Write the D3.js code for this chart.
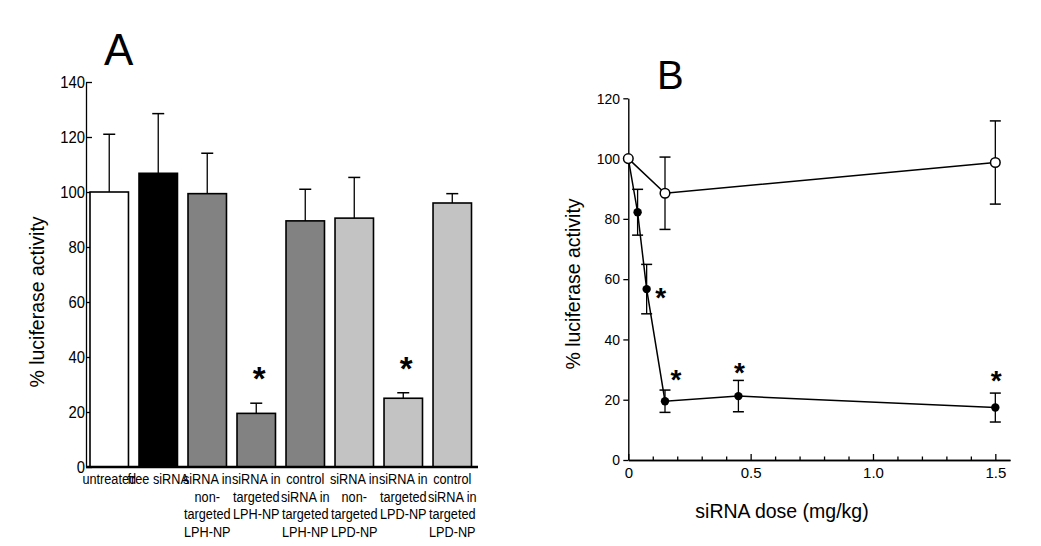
<!DOCTYPE html>
<html><head><meta charset="utf-8">
<script src="https://cdn.jsdelivr.net/npm/d3@7"></script>
<style>
html,body{margin:0;padding:0;background:#fff;}
svg{display:block;font-family:"Liberation Sans",Arial,sans-serif;}
</style></head>
<body>
<svg id="chart" width="1041" height="546"></svg>
<script>
// ---------- Panel A data ----------
const categories = ["untreated","free siRNA","siRNA in non-targeted LPH-NP","siRNA in targeted LPH-NP",
  "control siRNA in targeted LPH-NP","siRNA in non-targeted LPD-NP","siRNA in targeted LPD-NP","control siRNA in targeted LPD-NP"];
const categoryLines = [["untreated"],["free siRNA"],["siRNA in","non-","targeted","LPH-NP"],["siRNA in","targeted","LPH-NP"],
  ["control","siRNA in","targeted","LPH-NP"],["siRNA in","non-","targeted","LPD-NP"],["siRNA in","targeted","LPD-NP"],
  ["control","siRNA in","targeted","LPD-NP"]];
const activityA = [100, 106.8, 99.4, 19.5, 89.5, 90.5, 25, 96];
const errorA = [21, 21.7, 14.7, 3.7, 11.5, 14.8, 2, 3.4];
const significantA = [false,false,false,true,false,false,true,false];
const barColors = ["#ffffff","#000000","#828282","#828282","#828282","#c3c3c3","#c3c3c3","#c3c3c3"];
const ticksA = [0,20,40,60,80,100,120,140];

// ---------- Panel B data ----------
const doseSiRNA = [0, 0.038, 0.075, 0.15, 0.45, 1.5];
const activitySiRNA = [100, 82.2, 56.7, 19.5, 21.2, 17.4];
const errorSiRNA = [0, 7.6, 8.2, 3.7, 5.2, 4.8];
const significantB = [false,false,true,true,true,true];
const doseControl = [0, 0.15, 1.5];
const activityControl = [100, 88.5, 98.7];
const errorControl = [0, 12, 13.8];
const ticksBy = [0,20,40,60,80,100,120];
const ticksBx = [0,0.5,1.0,1.5];
const tickLabelsBx = ["0","0.5","1.0","1.5"];
const minorTicksBx = [0.1,0.2,0.3,0.4,0.6,0.7,0.8,0.9,1.1,1.2,1.3,1.4];

const svg = d3.select("#chart");

// ================= PANEL A =================
const yA = d3.scaleLinear().domain([0,140]).range([467,82]);
const xA = d3.scaleBand().domain(categories).range([90,471.5]).paddingInner(0.215).paddingOuter(0);
const gA = svg.append("g");

const axA = gA.append("g").attr("transform","translate(86,0)")
  .call(d3.axisLeft(yA).tickValues(ticksA).tickSizeInner(-6).tickSizeOuter(0).tickPadding(1));
axA.select(".domain").attr("stroke","#000").attr("stroke-width",1.3);
axA.selectAll(".tick line").attr("stroke","#000").attr("stroke-width",1.3);
axA.selectAll(".tick text").attr("font-size",16.5).attr("fill","#000").attr("font-family","Liberation Sans, Arial, sans-serif")
  .attr("transform","scale(0.9,1)").attr("dy","0.36em");

gA.selectAll("rect.bar").data(categories).join("rect").attr("class","bar")
  .attr("x",d=>xA(d)).attr("width",xA.bandwidth())
  .attr("y",(d,i)=>yA(activityA[i])).attr("height",(d,i)=>yA(0)-yA(activityA[i]))
  .attr("fill",(d,i)=>barColors[i]).attr("stroke","#000").attr("stroke-width",1.6);

// error bars (upper only)
categories.forEach((c,i)=>{
  const cx = xA(c)+xA.bandwidth()/2;
  const y0 = yA(activityA[i]), y1 = yA(activityA[i]+errorA[i]);
  gA.append("line").attr("x1",cx).attr("x2",cx).attr("y1",y0).attr("y2",y1).attr("stroke","#000").attr("stroke-width",1.3);
  gA.append("line").attr("x1",cx-6).attr("x2",cx+6).attr("y1",y1).attr("y2",y1).attr("stroke","#000").attr("stroke-width",1.5);
  if(significantA[i]){
    gA.append("text").attr("x",cx+3).attr("y",y1-31+18).attr("text-anchor","middle")
      .attr("font-size",33).attr("font-weight","bold").text("*");
  }
});

// baseline
gA.append("line").attr("x1",86).attr("x2",478).attr("y1",yA(0)).attr("y2",yA(0)).attr("stroke","#000").attr("stroke-width",2.6);

// category labels (clipped)
svg.append("defs").append("clipPath").attr("id","clipA").append("rect").attr("x",0).attr("y",0).attr("width",477).attr("height",546);
const labG = gA.append("g").attr("clip-path","url(#clipA)");
categories.forEach((c,i)=>{
  const cx = xA(c)+xA.bandwidth()/2;
  const t = labG.append("g").attr("transform",`translate(${cx},0) scale(0.82,1)`)
    .append("text").attr("text-anchor","middle").attr("font-size",15.5).attr("fill","#000");
  categoryLines[i].forEach((ln,k)=>{
    t.append("tspan").attr("x",0).attr("y",484+k*17.6).text(ln);
  });
});

gA.append("text").attr("transform","translate(44,302) rotate(-90)").attr("text-anchor","middle")
  .attr("font-size",19.5).text("% luciferase activity");
gA.append("text").attr("x",104).attr("y",65).attr("font-size",44).text("A");

// ================= PANEL B =================
const xB = d3.scaleLinear().domain([0,1.56]).range([628.3,1010]);
const yB = d3.scaleLinear().domain([0,120]).range([460,98.3]);
const gB = svg.append("g");

const axBy = gB.append("g").attr("transform","translate(628.3,0)")
  .call(d3.axisLeft(yB).tickValues(ticksBy).tickSizeInner(5).tickSizeOuter(0).tickPadding(4));
const axBx = gB.append("g").attr("transform","translate(0,460)")
  .call(d3.axisBottom(xB).tickValues(ticksBx).tickFormat((d,i)=>tickLabelsBx[i]).tickSizeInner(-6).tickSizeOuter(0).tickPadding(7));
const axBm = gB.append("g").attr("transform","translate(0,460)")
  .call(d3.axisBottom(xB).tickValues(minorTicksBx).tickFormat("").tickSizeInner(-3.5).tickSizeOuter(0));
[axBy,axBx,axBm].forEach(a=>{
  a.select(".domain").attr("stroke","#000").attr("stroke-width",1.4);
  a.selectAll(".tick line").attr("stroke","#000").attr("stroke-width",1.3);
  a.selectAll(".tick text").attr("font-size",15).attr("fill","#000").attr("font-family","Liberation Sans, Arial, sans-serif");
});
axBy.selectAll(".tick text").attr("transform","scale(0.93,1)");

// lines
const lineB = d3.line().x(d=>xB(d[0])).y(d=>yB(d[1]));
gB.append("path").datum(doseSiRNA.map((d,i)=>[d,activitySiRNA[i]])).attr("d",lineB)
  .attr("fill","none").attr("stroke","#000").attr("stroke-width",1.5);
gB.append("path").datum(doseControl.map((d,i)=>[d,activityControl[i]])).attr("d",lineB)
  .attr("fill","none").attr("stroke","#000").attr("stroke-width",1.5);

function errBar(x,v,e){
  if(!e) return;
  const cx = xB(x), yt = yB(v+e), yb = yB(v-e);
  gB.append("line").attr("x1",cx).attr("x2",cx).attr("y1",yt).attr("y2",yb).attr("stroke","#000").attr("stroke-width",1.3);
  [yt,yb].forEach(yy=>gB.append("line").attr("x1",cx-5.5).attr("x2",cx+5.5).attr("y1",yy).attr("y2",yy).attr("stroke","#000").attr("stroke-width",1.5));
}
doseSiRNA.forEach((d,i)=>errBar(d,activitySiRNA[i],errorSiRNA[i]));
doseControl.forEach((d,i)=>errBar(d,activityControl[i],errorControl[i]));

gB.selectAll("circle.fill").data(doseSiRNA.slice(1)).join("circle").attr("class","fill")
  .attr("cx",d=>xB(d)).attr("cy",(d,i)=>yB(activitySiRNA[i+1])).attr("r",4.2).attr("fill","#000");
gB.selectAll("circle.open").data(doseControl).join("circle").attr("class","open")
  .attr("cx",d=>xB(d)).attr("cy",(d,i)=>yB(activityControl[i])).attr("r",4.8)
  .attr("fill","#fff").attr("stroke","#000").attr("stroke-width",1.5);

// significance stars (placement rule: beside the steep segment, otherwise above the error bar)
const starPlacement = [null,null,{dx:14,mode:"side"},{dx:11,mode:"above",gap:17},{dx:1,mode:"above",gap:14},{dx:1,mode:"above",gap:19}];
doseSiRNA.forEach((d,i)=>{
  if(!significantB[i]) return;
  const p = starPlacement[i];
  const cx = xB(d)+p.dx;
  const cy = p.mode==="side" ? yB(activitySiRNA[i])+2 : yB(activitySiRNA[i]+errorSiRNA[i])-p.gap;
  gB.append("text").attr("x",cx).attr("y",cy+16).attr("text-anchor","middle")
    .attr("font-size",28).attr("font-weight","bold").text("*");
});

gB.append("text").attr("transform","translate(580,284) rotate(-90)").attr("text-anchor","middle")
  .attr("font-size",19.5).text("% luciferase activity");
gB.append("text").attr("x",782).attr("y",518).attr("text-anchor","middle").attr("font-size",19.5).text("siRNA dose (mg/kg)");
gB.append("text").attr("x",657).attr("y",89).attr("font-size",40).text("B");
</script>
</body></html>
